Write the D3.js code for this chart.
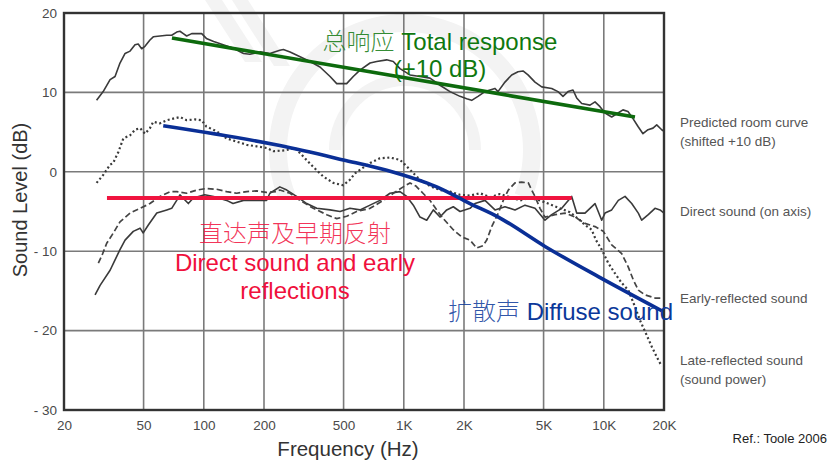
<!DOCTYPE html>
<html>
<head>
<meta charset="utf-8">
<script src="https://cdn.jsdelivr.net/npm/d3@7"></script>
<style>
  html, body { margin: 0; padding: 0; background: #fff; }
  svg { display: block; }
  text { font-family: "Liberation Sans", Arial, "Noto Sans CJK SC", sans-serif; }
  .cjk { font-family: "Noto Sans CJK SC", sans-serif; font-weight: 300; }
</style>
</head>
<body>
<svg id="chart" width="829" height="460"></svg>
<script>
// Frequency axis (log) and level axis
const freqTicks = [20, 50, 100, 200, 500, 1000, 2000, 5000, 10000, 20000];
const freqTickLabels = ["20", "50", "100", "200", "500", "1K", "2K", "5K", "10K", "20K"];
const dbTicks = [20, 10, 0, -10, -20, -30];
const dbTickLabels = ["20", "10", "0", "- 10", "- 20", "- 30"];

// Predicted room curve (shifted +10 dB): [Hz, dB]
const predictedRoom = [
  [29.1, 9.0], [31.4, 10.1], [34, 11.6], [36, 12.0], [38.1, 13.7], [40.4, 14.9], [42.8, 15.2],
  [45.3, 16.0], [47, 16.1], [48.9, 15.5], [50.8, 15.8], [53.8, 16.6], [55.9, 17.0], [60.4, 17.1],
  [65.3, 17.2], [69.1, 17.2], [73.2, 17.6], [76, 17.7], [79, 17.4], [82.1, 17.1], [87, 17.4],
  [92.2, 17.4], [97.6, 17.4], [103, 16.8], [112, 16.4], [125, 16.0], [140, 15.6], [158, 14.9],
  [170, 14.8], [191, 15.1], [214, 14.9], [240, 15.3], [250, 15.4], [270, 15.1], [303, 14.5],
  [340, 13.9], [381, 13.2], [428, 12.0], [462, 11.1], [518, 11.1], [559, 12.0], [604, 12.8],
  [678, 13.7], [732, 13.9], [821, 14.1], [886, 13.9], [957, 13.0], [1074, 12.2], [1205, 12.0],
  [1352, 11.8], [1517, 10.9], [1702, 10.1], [1910, 9.5], [2063, 9.2], [2186, 9.0], [2350, 9.5],
  [2547, 10.1], [2858, 10.5], [2958, 10.1], [3206, 11.3], [3463, 12.2], [3724, 12.6], [3945, 12.7],
  [4179, 12.2], [4529, 11.3], [4893, 10.7], [5490, 10.5], [5903, 10.1], [6252, 9.5], [6623, 10.1],
  [7015, 10.3], [7320, 9.3], [7754, 8.6], [8531, 8.4], [9038, 8.8], [9572, 8.2], [10140, 7.4],
  [10950, 6.9], [11780, 7.4], [12470, 7.8], [13210, 7.6], [14000, 6.7], [14830, 5.7], [15700, 4.8],
  [16640, 5.3], [17620, 5.5], [18390, 5.9], [19480, 5.3], [20000, 5.1]
];

// Direct sound (on axis)
const directSound = [
  [28.6, -15.5], [30.3, -14.3], [34, -12.4], [36, -11.1], [38.1, -9.8], [40.4, -8.6], [44.4, -7.5],
  [48, -7.1], [49.8, -7.7], [52.8, -6.7], [58.2, -5.2], [65.3, -4.8], [69.1, -4.6], [73.2, -3.6],
  [76, -2.9], [83.7, -4.0], [88.6, -3.3], [101, -2.9], [112, -3.1], [130, -3.6], [140, -4.0],
  [158, -3.6], [177, -3.6], [206, -3.6], [214, -2.7], [240, -1.9], [260, -2.3], [291, -3.1],
  [327, -4.0], [367, -4.6], [428, -4.8], [480, -5.0], [538, -4.6], [604, -4.8], [678, -4.2],
  [760, -3.6], [853, -2.7], [957, -2.5], [1034, -3.1], [1116, -4.2], [1205, -5.7], [1302, -6.1],
  [1405, -4.8], [1517, -5.7], [1639, -4.8], [1768, -4.4], [1910, -5.0], [2143, -4.6], [2270, -4.0],
  [2547, -3.6], [2858, -4.8], [3206, -4.4], [3598, -4.8], [4037, -4.2], [4529, -4.6], [5082, -6.1],
  [5490, -5.4], [6160, -4.6], [6910, -3.1], [7320, -5.2], [8054, -5.2], [9038, -4.0], [9763, -6.1],
  [10140, -5.2], [10950, -4.8], [11820, -3.6], [12770, -3.1], [13790, -4.0], [14880, -5.2],
  [15470, -6.1], [16690, -5.4], [18030, -4.6], [19100, -4.8], [20000, -5.2]
];

// Early-reflected sound
const earlyReflected = [
  [29.7, -11.5], [31.0, -10.5], [32.7, -9.0], [35.3, -7.7], [38.1, -6.3], [42.8, -5.2], [48, -4.6],
  [53.8, -4.0], [60.4, -3.1], [67.8, -2.5], [73.2, -2.5], [82.1, -2.7], [92.2, -2.3], [103, -2.1],
  [116, -2.2], [130, -2.5], [146, -2.7], [164, -2.5], [184, -2.4], [206, -2.6], [231, -2.5],
  [240, -2.3], [270, -2.7], [303, -3.6], [353, -4.6], [412, -5.4], [462, -5.9], [518, -5.6],
  [581, -5.0], [678, -4.6], [790, -3.6], [886, -2.7], [994, -1.9], [1074, -1.4], [1151, -1.8],
  [1247, -2.7], [1352, -3.6], [1461, -4.8], [1576, -5.9], [1768, -7.3], [1948, -8.2], [2143, -8.6],
  [2315, -9.6], [2490, -9.3], [2598, -8.6], [2752, -6.9], [2968, -5.2], [3144, -3.6], [3330, -2.3],
  [3598, -1.4], [3886, -1.3], [4194, -1.4], [4361, -2.3], [4529, -3.1], [4797, -4.6], [5082, -5.7],
  [5702, -5.4], [6397, -5.2], [7178, -5.7], [8054, -6.5], [9038, -6.9], [9944, -7.5], [10950, -9.2],
  [12290, -10.3], [13260, -12.0], [14040, -13.6], [14880, -14.9], [16070, -15.5], [18030, -15.9],
  [20000, -15.9]
];

// Late-reflected sound (sound power)
const lateReflected = [
  [29.1, -1.4], [31.4, -0.4], [34, 0.9], [35.2, 1.1], [37.4, 2.5], [39.6, 4.2], [42.8, 4.6],
  [45.3, 5.3], [48, 5.5], [50.8, 4.8], [53.8, 5.5], [55.9, 6.3], [60.4, 6.1], [65.3, 6.5],
  [70.4, 6.7], [76, 6.9], [82.1, 6.5], [90.4, 6.6], [97.6, 6.5], [103, 5.7], [116, 5.1], [130, 4.2],
  [146, 3.8], [164, 3.4], [184, 3.2], [206, 3.0], [223, 2.6], [255, 2.7], [286, 3.0], [315, 1.9],
  [353, 0.6], [396, -0.6], [444, -1.4], [498, -1.7], [538, -1.0], [570, -0.2], [616, 0.4],
  [678, 1.1], [760, 1.7], [853, 1.8], [957, 1.5], [1014, 0.9], [1099, 0.0], [1205, -1.0],
  [1352, -1.8], [1517, -2.3], [1702, -2.5], [1910, -2.9], [2143, -3.0], [2404, -2.7], [2698, -3.2],
  [3027, -2.8], [3396, -3.2], [3811, -3.6], [4276, -3.3], [4797, -3.6], [5383, -4.1], [6040, -4.6],
  [6776, -5.1], [7604, -6.1], [8054, -6.7], [8700, -7.3], [9142, -8.6], [9763, -9.8], [10530, -11.5],
  [11380, -12.8], [12290, -14.0], [13260, -14.9], [14320, -17.0], [15170, -18.7], [16070, -20.1],
  [17360, -22.0], [18390, -23.3], [19480, -24.5]
];

// Highlighted trends
const totalTrend = [[69.3, 16.85], [14320, 6.9]];
const directEarlyTrend = [[32.8, -3.3], [6910, -3.3]];
const diffuseTrend = [
  [62.7, 5.8], [240, 3.3], [498, 1.5], [821, 0.2], [1461, -1.9], [2143, -4.0],
  [2968, -5.7], [5082, -9.4], [9388, -13.2], [19480, -17.5]
];

const sideLabels = [
  { lines: ["Predicted room curve", "(shifted +10 dB)"], y: 126.5 },
  { lines: ["Direct sound (on axis)"], y: 216 },
  { lines: ["Early-reflected sound"], y: 303 },
  { lines: ["Late-reflected sound", "(sound power)"], y: 364.5 }
];

const svg = d3.select("#chart");
const plot = { left: 64, right: 664, top: 13, bottom: 410 };

const x = d3.scaleLog().domain([20, 20000]).range([plot.left, plot.right]);
const y = d3.scaleLinear().domain([-30, 20]).range([plot.bottom, plot.top]);

// faint logo watermark in the background
const wm = svg.append("g").attr("fill", "#f3f3f3");
wm.append("path")
  .attr("transform", "translate(405,150)")
  .attr("d", d3.arc()({ innerRadius: 118, outerRadius: 136, startAngle: -Math.PI * 0.62, endAngle: Math.PI * 0.62 }));
wm.append("path")
  .attr("transform", "translate(405,150)")
  .attr("d", d3.arc()({ innerRadius: 64, outerRadius: 76, startAngle: -Math.PI * 0.5, endAngle: Math.PI * 0.5 }));
wm.append("path").attr("d", "M205,0 L222,0 L262,62 L245,62 Z");
wm.append("path").attr("d", "M232,0 L248,0 L290,66 L274,66 Z");

// grid
const grid = svg.append("g").attr("stroke", "#7a7a7a").attr("stroke-width", 1.6);
grid.selectAll("line.v")
  .data(freqTicks.slice(1, -1))
  .join("line")
  .attr("x1", d => x(d)).attr("x2", d => x(d))
  .attr("y1", plot.top).attr("y2", plot.bottom);
grid.selectAll("line.h")
  .data(dbTicks.slice(1, -1))
  .join("line")
  .attr("x1", plot.left).attr("x2", plot.right)
  .attr("y1", d => y(d)).attr("y2", d => y(d));

// axes (labels only)
const xAxis = d3.axisBottom(x)
  .tickValues(freqTicks)
  .tickFormat((d, i) => freqTickLabels[i])
  .tickSize(0).tickPadding(10);
const gx = svg.append("g").attr("transform", `translate(0,${plot.bottom})`).call(xAxis);
gx.select(".domain").remove();
gx.selectAll("text").attr("font-size", 13.5).attr("fill", "#4a4a4a")
  .style("font-family", "'Liberation Sans', Arial, sans-serif");

const yAxis = d3.axisLeft(y)
  .tickValues(dbTicks)
  .tickFormat((d, i) => dbTickLabels[i])
  .tickSize(0).tickPadding(7);
const gy = svg.append("g").attr("transform", `translate(${plot.left},0)`).call(yAxis);
gy.select(".domain").remove();
gy.selectAll("text").attr("font-size", 13.5).attr("fill", "#4a4a4a")
  .style("font-family", "'Liberation Sans', Arial, sans-serif");

// measured curves
const line = d3.line().x(d => x(d[0])).y(d => y(d[1]));
const curves = svg.append("g").attr("fill", "none").attr("stroke-linejoin", "round");
curves.append("path").datum(predictedRoom).attr("d", line)
  .attr("stroke", "#3a3a3a").attr("stroke-width", 1.6);
curves.append("path").datum(directSound).attr("d", line)
  .attr("stroke", "#3a3a3a").attr("stroke-width", 1.6);
curves.append("path").datum(earlyReflected).attr("d", line)
  .attr("stroke", "#444").attr("stroke-width", 1.7).attr("stroke-dasharray", "6,3");
curves.append("path").datum(lateReflected).attr("d", line)
  .attr("stroke", "#3a3a3a").attr("stroke-width", 2.2).attr("stroke-dasharray", "2,2.6");

// trend overlays
const smooth = d3.line().x(d => x(d[0])).y(d => y(d[1])).curve(d3.curveMonotoneX);
svg.append("path").datum(totalTrend).attr("d", line)
  .attr("fill", "none").attr("stroke", "#0d6a0d").attr("stroke-width", 3.6);
svg.append("path").datum(directEarlyTrend).attr("d", line)
  .attr("fill", "none").attr("stroke", "#f0143f").attr("stroke-width", 3.8);
svg.append("path").datum(diffuseTrend).attr("d", smooth)
  .attr("fill", "none").attr("stroke", "#0a2f96").attr("stroke-width", 3.6);

// plot frame
svg.append("rect")
  .attr("x", plot.left).attr("y", plot.top)
  .attr("width", plot.right - plot.left).attr("height", plot.bottom - plot.top)
  .attr("fill", "none").attr("stroke", "#333").attr("stroke-width", 2.4);

// annotations: each line is a list of [text, isCjk] runs
function note(lines, cx, y0, dy, color, anchor) {
  const t = svg.append("text").attr("text-anchor", anchor || "middle").attr("font-size", 24).attr("fill", color);
  lines.forEach((runs, i) => {
    runs.forEach((r, j) => {
      const ts = t.append("tspan").text(r[0]);
      if (j === 0) ts.attr("x", cx).attr("y", y0 + i * dy);
      if (r[1]) ts.attr("class", "cjk").attr("fill-opacity", 0.85);
    });
  });
}
note([[["总响应", true], [" Total response", false]], [["(+10 dB)", false]]], 440, 50, 27, "#0f780f");
note([[["直达声及早期反射", true]], [["Direct sound and early", false]], [["reflections", false]]],
  295, 242, 28.5, "#f0103c");
note([[["扩散声", true], [" Diffuse sound", false]]], 448, 320, 0, "#0b389a", "start");

// side labels for each curve
sideLabels.forEach(s => {
  const t = svg.append("text").attr("font-size", 13.5).attr("fill", "#555");
  s.lines.forEach((ln, i) => {
    t.append("tspan").attr("x", 680).attr("y", s.y + i * 19).text(ln);
  });
});

// axis titles
svg.append("text")
  .attr("transform", "translate(27,200) rotate(-90)")
  .attr("text-anchor", "middle").attr("font-size", 20).attr("fill", "#333")
  .text("Sound Level (dB)");
svg.append("text")
  .attr("x", 348).attr("y", 456)
  .attr("text-anchor", "middle").attr("font-size", 20.5).attr("fill", "#333")
  .text("Frequency (Hz)");

svg.append("text")
  .attr("x", 827).attr("y", 442.5)
  .attr("text-anchor", "end").attr("font-size", 13).attr("fill", "#222")
  .text("Ref.: Toole 2006");
</script>
</body>
</html>
